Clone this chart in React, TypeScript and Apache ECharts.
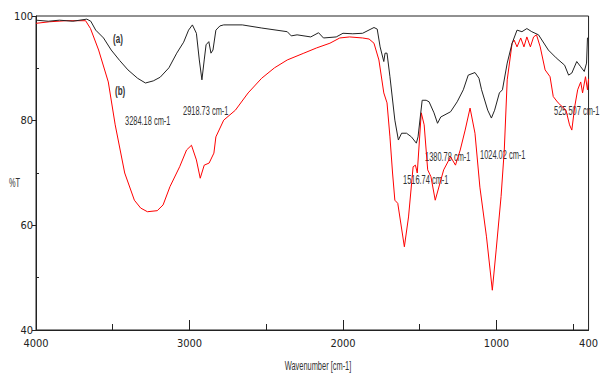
import React, { useEffect, useRef } from "react";
import * as echarts from "echarts";

// Spectrum (a) - black
const aWave = [4000,3920,3847,3760,3669,3643,3611,3560,3510,3455,3401,3338,3287,3236,3191,3134,3083,3038,3006,2981,2955,2936,2919,2904,2892,2874,2860,2847,2828,2802,2777,2656,2529,2363,2337,2299,2210,2159,2127,2044,2000,1936,1872,1798,1777,1758,1734,1726,1713,1694,1662,1639,1618,1586,1554,1522,1511,1484,1458,1439,1407,1384,1363,1299,1256,1216,1184,1140,1114,1097,1057,1033,1012,981,961,930,898,866,834,802,770,726,662,611,556,530,509,477,451,428,413,407,400];
const aT = [99.2,99.0,99.2,99.0,99.4,99.0,97.3,95.8,93.5,91.5,89.7,88.1,87.2,87.6,88.3,90.1,92.9,95.0,97.3,98.3,96.7,91.6,87.8,91.6,94.5,95.1,92.9,93.5,97.3,98.1,98.3,98.3,97.7,97.0,96.2,96.4,96.0,96.8,95.8,96.0,96.7,96.6,96.7,97.8,97.5,94.1,91.3,92.9,92.9,88.4,80.1,76.3,77.6,77.6,76.9,75.7,76.9,83.9,83.9,83.6,81.5,79.5,80.7,81.7,83.6,85.9,88.7,89.2,88.1,85.9,82.0,80.5,82.0,85.3,85.9,91.0,94.8,97.3,97.0,97.6,97.0,96.4,93.5,92.0,90.6,88.7,89.1,91.3,90.3,89.4,91.0,95.8,96];

// Spectrum (b) - red
const bWave = [4000,3911,3804,3677,3645,3592,3529,3484,3422,3359,3318,3274,3210,3172,3127,3064,3019,2987,2955,2930,2904,2872,2841,2828,2777,2701,2618,2530,2446,2363,2255,2172,2085,2021,1957,1872,1830,1798,1766,1734,1713,1694,1677,1662,1643,1600,1573,1543,1528,1516,1490,1471,1448,1427,1399,1344,1299,1267,1236,1204,1172,1140,1108,1065,1027,1002,970,949,930,898,885,866,842,821,802,779,758,739,715,683,651,630,598,547,524,509,490,471,451,439,420,407,400];
const bT = [98.6,98.9,99.1,99.1,97.6,93.5,87.4,79.2,70.0,64.8,63.3,62.6,62.8,63.9,67.4,71.2,74.4,75.3,72.5,69.0,71.5,71.9,73.8,76.9,80.1,82.0,85.3,88.1,90.1,91.6,92.9,93.9,94.8,95.8,96.0,95.8,95.6,94.8,91.6,85.3,83.4,76.9,70.0,64.8,64.2,55.9,61.6,71.2,71.5,70.0,81.5,79.2,70.6,69.3,64.8,70.6,73.1,71.5,74.4,78.2,82.4,77.6,67.3,57.8,47.6,55.3,65.5,74.4,87.8,94.8,95.4,94.1,95.8,94.1,96.0,94.1,96.0,96.4,94.1,89.7,88.4,84.6,83.4,82.0,79.2,78.2,82.7,85.9,87.4,85.3,88.4,85.9,88];

const xMajorTicks = [3000, 2000, 1000];
const xMinorTicks = [3500, 2500, 1500, 500];
const xTickLabels = [4000, 3000, 2000, 1000, 400];
const yMinorTicks = [50, 70, 90];

const peakLabels = [
  { text: "3284.18 cm-1", x: 125, y: 121 },
  { text: "2918.73 cm-1", x: 183, y: 111 },
  { text: "1380.78 cm-1", x: 425, y: 157 },
  { text: "1516.74 cm-1", x: 403, y: 180 },
  { text: "1024.02 cm-1", x: 480, y: 155 },
  { text: "525.507 cm-1", x: 554, y: 111 },
];

const NARROW = "'Liberation Sans Narrow','DejaVu Sans Condensed','Liberation Sans',sans-serif";
const SQ = 0.62;

export default function App() {
  const ref = useRef<HTMLDivElement>(null);
  useEffect(() => {
    document.body.style.margin = "0";
    const chart = echarts.init(ref.current!, undefined, { renderer: "svg" });
    const aData = aWave.map((w, i) => [w, aT[i]]);
    const bData = bWave.map((w, i) => [w, bT[i]]);
    const textEl = (text: string, x: number, y: number, extra: any = {}) => ({
      type: "text",
      x,
      y,
      scaleX: SQ,
      silent: true,
      style: {
        text,
        fontSize: 12,
        fontFamily: "'Liberation Sans', Arial, sans-serif",
        fill: "#333",
        verticalAlign: "middle",
        align: "left",
        ...extra,
      },
    });
    chart.setOption({
      animation: false,
      backgroundColor: "#fff",
      grid: { left: 36, right: 2, top: 16, bottom: 44, show: true, borderColor: "#222", borderWidth: 1 },
      xAxis: [
        {
          type: "value",
          inverse: true,
          min: 400,
          max: 4000,
          axisLine: { show: true, lineStyle: { color: "#222", width: 1 } },
          axisTick: { show: true, customValues: xMajorTicks, inside: true, length: 10, lineStyle: { color: "#222" } },
          axisLabel: {
            customValues: xTickLabels,
            formatter: (v: number) => String(v),
            color: "#222",
            fontSize: 11,
            fontFamily: NARROW,
            margin: 8,
            showMinLabel: true,
            showMaxLabel: true,
          },
          splitLine: { show: false },
        },
        {
          type: "value",
          inverse: true,
          min: 400,
          max: 4000,
          position: "bottom",
          axisLine: { show: false },
          axisTick: { show: true, customValues: xMinorTicks, inside: true, length: 6, lineStyle: { color: "#222" } },
          axisLabel: { show: false },
          splitLine: { show: false },
        },
      ],
      yAxis: [
        {
          type: "value",
          min: 40,
          max: 100,
          interval: 20,
          axisLine: { show: true, lineStyle: { color: "#222", width: 1 } },
          axisTick: { show: true, length: 4, lineStyle: { color: "#222" } },
          axisLabel: { color: "#222", fontSize: 11, fontFamily: NARROW, margin: 3, formatter: (v: number) => String(v) },
          splitLine: { show: false },
        },
        {
          type: "value",
          min: 40,
          max: 100,
          position: "left",
          axisLine: { show: false },
          axisTick: { show: true, customValues: yMinorTicks, inside: true, length: 3, lineStyle: { color: "#222" } },
          axisLabel: { show: false },
          splitLine: { show: false },
        },
      ],
      series: [
        {
          name: "(b)",
          type: "line",
          xAxisIndex: 0,
          yAxisIndex: 0,
          data: bData,
          showSymbol: false,
          smooth: false,
          lineStyle: { color: "#ff0000", width: 1 },
          itemStyle: { color: "#ff0000" },
        },
        {
          name: "(a)",
          type: "line",
          xAxisIndex: 0,
          yAxisIndex: 0,
          data: aData,
          showSymbol: false,
          smooth: false,
          lineStyle: { color: "#222", width: 1 },
          itemStyle: { color: "#222" },
        },
      ],
      graphic: [
        textEl("(a)", 113, 38, { fontWeight: "bold", fontSize: 13 }),
        textEl("(b)", 115, 90, { fontWeight: "bold", fontSize: 13 }),
        ...peakLabels.map((p) => textEl(p.text, p.x, p.y)),
        textEl("%T", 9, 183),
        textEl("Wavenumber [cm-1]", 318, 366, { align: "center" }),
      ],
    });
    return () => chart.dispose();
  }, []);
  return <div ref={ref} style={{ width: 601, height: 374, position: "fixed", left: 0, top: 0 }} />;
}
